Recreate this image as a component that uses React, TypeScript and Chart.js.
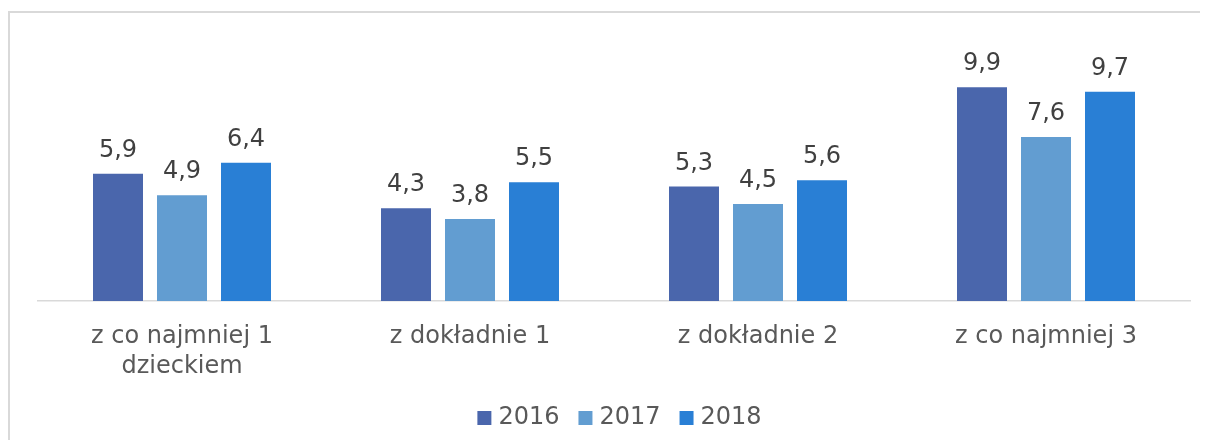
import React, { useEffect, useRef } from 'react';
import { Chart, registerables } from 'chart.js';

Chart.register(...registerables);

const categories: (string | string[])[] = [
  ['z co najmniej 1', 'dzieckiem'],
  'z dokładnie 1',
  'z dokładnie 2',
  'z co najmniej 3',
];
const seriesNames = ['2016', '2017', '2018'];
const values2016 = [5.9, 4.3, 5.3, 9.9];
const values2017 = [4.9, 3.8, 4.5, 7.6];
const values2018 = [6.4, 5.5, 5.6, 9.7];
const seriesColors = ['#4A66AC', '#629DD1', '#297FD5'];
const yMin = 0;
const yMax = 12;

const FONT = '"DejaVu Sans", Verdana, sans-serif';

const dataLabelsPlugin = {
  id: 'dataLabels',
  afterDatasetsDraw(chart: any) {
    const ctx = chart.ctx;
    ctx.save();
    ctx.font = `24px ${FONT}`;
    ctx.fillStyle = '#404040';
    ctx.textAlign = 'center';
    ctx.textBaseline = 'alphabetic';
    chart.data.datasets.forEach((ds: any, i: number) => {
      const meta = chart.getDatasetMeta(i);
      meta.data.forEach((el: any, j: number) => {
        const v = ds.data[j] as number;
        ctx.fillText(v.toFixed(1).replace('.', ','), el.x, el.y - 17);
      });
    });
    ctx.restore();
  },
};

const legendShiftPlugin = {
  id: 'legendShift',
  afterLayout(chart: any) {
    if (chart.legend) {
      chart.legend.left += 8;
      chart.legend.right += 8;
    }
  },
};

export default function App() {
  const canvasRef = useRef<HTMLCanvasElement | null>(null);

  useEffect(() => {
    if (!canvasRef.current) return;
    Chart.defaults.font.family = FONT;
    const seriesValues = [values2016, values2017, values2018];
    const chart = new Chart(canvasRef.current, {
      type: 'bar',
      data: {
        labels: categories,
        datasets: seriesNames.map((name, i) => ({
          label: name,
          data: seriesValues[i],
          backgroundColor: seriesColors[i],
          borderWidth: 0,
          categoryPercentage: 2 / 3,
          barPercentage: 0.78125,
        })),
      },
      options: {
        animation: false,
        responsive: true,
        maintainAspectRatio: false,
        layout: { padding: { left: 28, right: 18, top: 29, bottom: 0 } },
        plugins: {
          tooltip: { enabled: false },
          legend: {
            position: 'bottom',
            labels: {
              font: { size: 24, family: FONT },
              color: '#595959',
              boxWidth: 4,
              boxHeight: 4,
              padding: 24,
              generateLabels: (chart: any) =>
                chart.data.datasets.map((ds: any, i: number) => ({
                  text: ds.label,
                  fillStyle: seriesColors[i],
                  strokeStyle: seriesColors[i],
                  lineWidth: 10,
                  fontColor: '#595959',
                  hidden: false,
                  datasetIndex: i,
                })),
            },
          },
        },
        scales: {
          x: {
            grid: { display: false, drawTicks: false },
            border: { display: true, color: '#D9D9D9', width: 1.5 },
            ticks: {
              color: '#595959',
              font: { size: 24, family: FONT, lineHeight: 1.25 },
              padding: 21,
              maxRotation: 0,
              autoSkip: false,
            },
            afterFit: (scale: any) => {
              scale.height = 81;
            },
          },
          y: {
            display: false,
            min: yMin,
            max: yMax,
          },
        },
      },
      plugins: [dataLabelsPlugin, legendShiftPlugin],
    });
    return () => chart.destroy();
  }, []);

  return (
    <div
      style={{
        marginTop: 3,
        marginRight: -8,
        borderLeft: '2px solid #D9D9D9',
        borderTop: '2px solid #D9D9D9',
      }}
    >
      <div style={{ position: 'relative', height: 427 }}>
        <canvas ref={canvasRef} />
      </div>
    </div>
  );
}
